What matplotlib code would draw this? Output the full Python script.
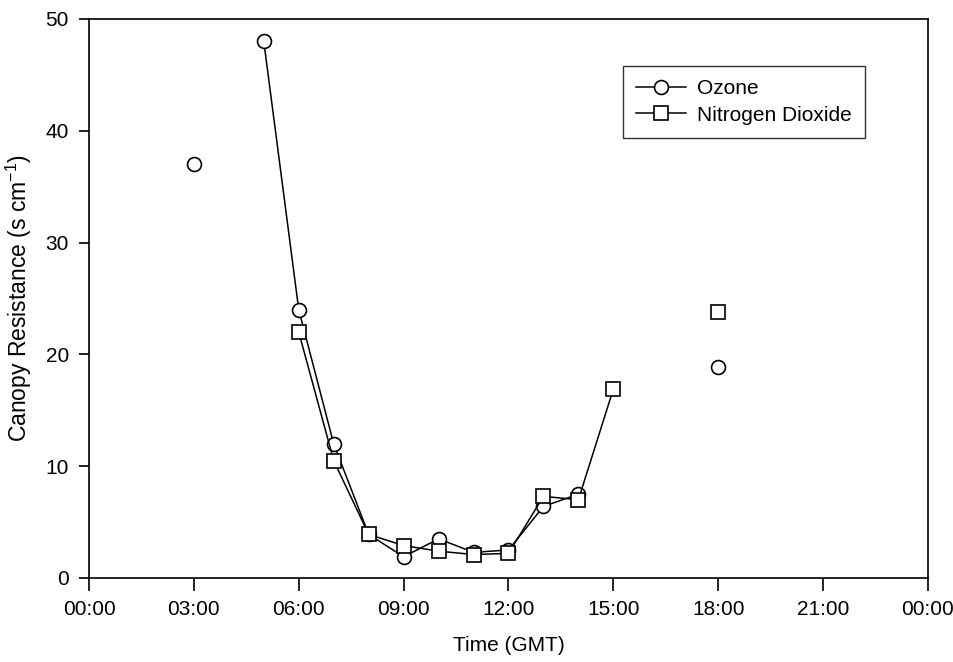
import numpy as np
import matplotlib
matplotlib.use("Agg")
import matplotlib.pyplot as plt

plt.rcParams['font.family'] = ['Liberation Sans', 'DejaVu Sans']

hours = [3, 4, 5, 6, 7, 8, 9, 10, 11, 12, 13, 14, 15, 16, 17, 18]
nan = np.nan
ozone = [37.0, nan, 48.0, 24.0, 12.0, 3.9, 1.9, 3.5, 2.3, 2.5, 6.4, 7.5, nan, nan, nan, 18.9]
no2 = [nan, nan, nan, 22.0, 10.5, 3.9, 2.9, 2.4, 2.1, 2.2, 7.3, 7.0, 16.9, nan, nan, 23.8]

xticks = [0, 3, 6, 9, 12, 15, 18, 21, 24]
xticklabels = ["00:00", "03:00", "06:00", "09:00", "12:00", "15:00", "18:00", "21:00", "00:00"]
yticks = [0, 10, 20, 30, 40, 50]

fig = plt.figure(figsize=(9.54, 6.62), dpi=100)
ax = fig.add_axes([0.0933, 0.1269, 0.8794, 0.8444])

ax.plot(hours, ozone, color='black', lw=1.1, marker='o', ms=10,
        mfc='white', mec='black', mew=1.2, label='Ozone', zorder=3)
ax.plot(hours, no2, color='black', lw=1.1, marker='s', ms=10,
        mfc='white', mec='black', mew=1.2, label='Nitrogen Dioxide', zorder=4)

ax.set_xlim(0, 24)
ax.set_ylim(0, 50)
ax.set_xticks(xticks)
ax.set_xticklabels(xticklabels)
ax.set_yticks(yticks)
ax.tick_params(axis='x', direction='out', length=9, width=1.2, labelsize=15, pad=7)
ax.tick_params(axis='y', direction='out', length=7.5, width=1.2, labelsize=15, pad=7)
for s in ax.spines.values():
    s.set_linewidth(1.2)

ax.set_xlabel("Time (GMT)", fontsize=15, labelpad=12)
ax.set_ylabel("Canopy Resistance (s cm$^{\\mathregular{-1}}$)", fontsize=16.5, labelpad=8)

leg = ax.legend(loc='upper right', bbox_to_anchor=(0.925, 0.916), fontsize=15,
                frameon=True, fancybox=False, edgecolor='black', handlelength=2.4,
                handletextpad=0.5, borderpad=0.65, labelspacing=0.35, borderaxespad=0)
leg.get_frame().set_linewidth(1.0)

fig.savefig("out.png", dpi=100)
